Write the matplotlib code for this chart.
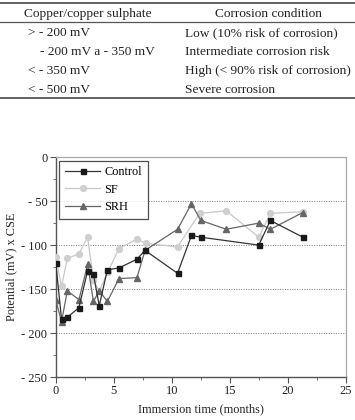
import matplotlib.pyplot as plt
from matplotlib.lines import Line2D
from matplotlib.ticker import MultipleLocator, FuncFormatter

plt.rcParams['font.family'] = ['Liberation Serif', 'DejaVu Serif']

# table contents
tab_head = ['Copper/copper sulphate', 'Corrosion condition']
tab_left = ['> - 200 mV', '- 200 mV a - 350 mV', '< - 350 mV', '< - 500 mV']
tab_right = ['Low (10% risk of corrosion)', 'Intermediate corrosion risk',
             'High (< 90% risk of corrosion)', 'Severe corrosion']

# series (months, mV)
ctrl_t = [0, 0.5, 1, 2, 2.75, 3.25, 3.75, 4.45, 5.45, 7, 7.7, 10.5, 11.7, 12.5, 17.5, 18.5, 21.3]
ctrl_v = [-120, -184, -182, -171, -129, -133, -169, -128, -126, -116, -106, -132, -89, -91, -100, -72, -91]
sf_t = [0, 0.5, 1, 2, 2.75, 3.25, 3.75, 4.5, 5.45, 7, 7.75, 10.5, 12.4, 14.7, 17.5, 18.5, 21.3]
sf_v = [-114, -147, -115, -110, -91, -140, -152, -130, -104, -93, -98, -102, -64, -61, -91, -64, -62]
srh_t = [0, 0.5, 1, 2, 2.75, 3.25, 3.75, 4.45, 5.45, 7, 7.7, 10.5, 11.7, 12.5, 14.7, 17.5, 18.5, 21.3]
srh_v = [-162, -187, -152, -162, -122, -164, -152, -164, -138, -137, -106, -82, -53, -72, -82, -75, -82, -63]

fig = plt.figure(figsize=(3.55, 4.2), dpi=100)

# table on top
lc = '#555555'
for y, lw in [(0.993, 1.3), (0.948, 0.9), (0.767, 1.3)]:
    fig.add_artist(Line2D([0, 1], [y, y], color=lc, lw=lw, transform=fig.transFigure))
fs = 9.6
tc = '#222222'
fig.text(0.247, 0.967, tab_head[0], ha='center', va='center', fontsize=fs, color=tc)
fig.text(0.757, 0.967, tab_head[1], ha='center', va='center', fontsize=fs, color=tc)
rows_y = [0.921, 0.876, 0.831, 0.786]
for i, y in enumerate(rows_y):
    x0 = 0.079 if i != 1 else 0.112
    fig.text(x0, y, tab_left[i], ha='left', va='center', fontsize=fs, color=tc)
    fig.text(0.521, y, tab_right[i], ha='left', va='center', fontsize=fs, color=tc)

ax = fig.add_axes([0.157, 0.102, 0.817, 0.524])
ax.plot(ctrl_t, ctrl_v, color='#333333', lw=0.9, marker='s', ms=3.6,
        mfc='#1a1a1a', mec='#1a1a1a', label='Control', zorder=4)
ax.plot(sf_t, sf_v, color='#c8c8c8', lw=0.9, marker='o', ms=4.2,
        mfc='#cfcfcf', mec='#cfcfcf', label='SF', zorder=3)
ax.plot(srh_t, srh_v, color='#666666', lw=0.9, marker='^', ms=4.2,
        mfc='#666666', mec='#666666', label='SRH', zorder=3)

ax.set_xlim(0, 25)
ax.set_ylim(-250, 0)
ax.xaxis.set_major_locator(MultipleLocator(5))
ax.xaxis.set_minor_locator(MultipleLocator(2.5))
ax.yaxis.set_major_locator(MultipleLocator(50))
ax.yaxis.set_minor_locator(MultipleLocator(25))
ax.yaxis.set_major_formatter(FuncFormatter(lambda v, p: '0' if v == 0 else '- %d' % abs(v)))
for y in [-50, -100, -150, -200]:
    ax.axhline(y, color='#777777', lw=0.7, ls=(0, (1, 1.5)), zorder=1)

for s in ['left', 'bottom']:
    ax.spines[s].set_color('#555555')
    ax.spines[s].set_linewidth(1.0)
for s in ['top', 'right']:
    ax.spines[s].set_color('#aaaaaa')
    ax.spines[s].set_linewidth(0.9)
ax.tick_params(which='both', direction='out', color='#555555', labelsize=9,
               labelcolor=tc, pad=2)
ax.tick_params(which='major', length=4)
ax.tick_params(which='minor', length=2.5)

ax.set_xlabel('Immersion time (months)', fontsize=8.8, color=tc, labelpad=4)
ax.set_ylabel('Potential (mV) x CSE', fontsize=8.8, color=tc, labelpad=3)

leg = ax.legend(loc='upper left', fontsize=8.8, frameon=True, fancybox=False,
                edgecolor='#222222', handlelength=2.9, borderaxespad=0.3,
                labelspacing=0.45, borderpad=0.45, handletextpad=0.35)
leg.get_frame().set_linewidth(0.9)

fig.savefig('out.png', dpi=100)
